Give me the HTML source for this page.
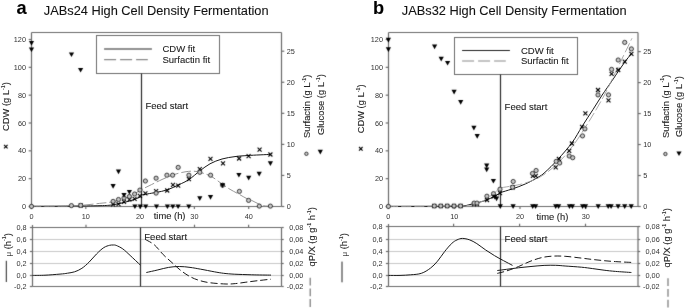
<!DOCTYPE html>
<html><head><meta charset="utf-8"><style>
html,body{margin:0;padding:0;background:#fff;}
svg{display:block;font-family:"Liberation Sans", sans-serif;}
#w{width:685px;height:308px;overflow:hidden;filter:grayscale(1);}
text{stroke:#222;stroke-width:0.1px;}
.tk{stroke-width:0;fill:#333;}
</style></head><body><div id="w">
<svg width="685" height="308" viewBox="0 0 685 308" xmlns="http://www.w3.org/2000/svg">
<defs><filter id="bl" x="0" y="0" width="685" height="308" filterUnits="userSpaceOnUse" color-interpolation-filters="sRGB"><feConvolveMatrix order="3" kernelMatrix="0.015 0.075 0.015 0.075 0.64 0.075 0.015 0.075 0.015" edgeMode="none" preserveAlpha="false"/></filter></defs>
<rect width="685" height="308" fill="#fff"/>
<g filter="url(#bl)">
<line x1="31.5" y1="32.5" x2="281.5" y2="32.5" stroke="#6c6c6c" stroke-width="1.2"/>
<line x1="31.5" y1="32.5" x2="31.5" y2="206.5" stroke="#6c6c6c" stroke-width="1.2"/>
<line x1="281.5" y1="32.5" x2="281.5" y2="206.5" stroke="#6c6c6c" stroke-width="1.2"/>
<line x1="31.5" y1="206.5" x2="281.5" y2="206.5" stroke="#6c6c6c" stroke-width="1.2"/>
<line x1="28.7" y1="206.5" x2="31.5" y2="206.5" stroke="#6c6c6c" stroke-width="1.2"/>
<line x1="28.7" y1="178.666" x2="31.5" y2="178.666" stroke="#6c6c6c" stroke-width="1.2"/>
<line x1="28.7" y1="150.832" x2="31.5" y2="150.832" stroke="#6c6c6c" stroke-width="1.2"/>
<line x1="28.7" y1="122.998" x2="31.5" y2="122.998" stroke="#6c6c6c" stroke-width="1.2"/>
<line x1="28.7" y1="95.164" x2="31.5" y2="95.164" stroke="#6c6c6c" stroke-width="1.2"/>
<line x1="28.7" y1="67.33000000000001" x2="31.5" y2="67.33000000000001" stroke="#6c6c6c" stroke-width="1.2"/>
<line x1="28.7" y1="39.49600000000001" x2="31.5" y2="39.49600000000001" stroke="#6c6c6c" stroke-width="1.2"/>
<line x1="281.5" y1="206.5" x2="284.3" y2="206.5" stroke="#6c6c6c" stroke-width="1.2"/>
<line x1="281.5" y1="175.44" x2="284.3" y2="175.44" stroke="#6c6c6c" stroke-width="1.2"/>
<line x1="281.5" y1="144.38" x2="284.3" y2="144.38" stroke="#6c6c6c" stroke-width="1.2"/>
<line x1="281.5" y1="113.32000000000001" x2="284.3" y2="113.32000000000001" stroke="#6c6c6c" stroke-width="1.2"/>
<line x1="281.5" y1="82.26" x2="284.3" y2="82.26" stroke="#6c6c6c" stroke-width="1.2"/>
<line x1="281.5" y1="51.20000000000002" x2="284.3" y2="51.20000000000002" stroke="#6c6c6c" stroke-width="1.2"/>
<line x1="31.5" y1="206.5" x2="31.5" y2="209.1" stroke="#6c6c6c" stroke-width="1.2"/>
<line x1="85.8" y1="206.5" x2="85.8" y2="209.1" stroke="#6c6c6c" stroke-width="1.2"/>
<line x1="140.1" y1="206.5" x2="140.1" y2="209.1" stroke="#6c6c6c" stroke-width="1.2"/>
<line x1="194.39999999999998" y1="206.5" x2="194.39999999999998" y2="209.1" stroke="#6c6c6c" stroke-width="1.2"/>
<line x1="248.7" y1="206.5" x2="248.7" y2="209.1" stroke="#6c6c6c" stroke-width="1.2"/>
<rect x="96.5" y="35.5" width="123.0" height="38.0" fill="#fff" stroke="#6c6c6c" stroke-width="1"/>
<line x1="104.1" y1="49.0" x2="151.9" y2="49.0" stroke="#222" stroke-width="1.1"/>
<line x1="104.1" y1="59.6" x2="147.8" y2="59.6" stroke="#8a8a8a" stroke-width="1.1" stroke-dasharray="12,4"/>
<line x1="141.5" y1="73.5" x2="141.5" y2="206.5" stroke="#2a2a2a" stroke-width="1.2"/>
<line x1="32.5" y1="239.5" x2="281.5" y2="239.5" stroke="#c8c8c8" stroke-width="1.2"/>
<line x1="32.5" y1="251.5" x2="281.5" y2="251.5" stroke="#c8c8c8" stroke-width="1.2"/>
<line x1="32.5" y1="263.5" x2="281.5" y2="263.5" stroke="#c8c8c8" stroke-width="1.2"/>
<line x1="32.5" y1="275.5" x2="281.5" y2="275.5" stroke="#c8c8c8" stroke-width="1.2"/>
<line x1="32.5" y1="225.0" x2="32.5" y2="286.5" stroke="#6c6c6c" stroke-width="1.2"/>
<line x1="32.5" y1="227.5" x2="281.5" y2="227.5" stroke="#6c6c6c" stroke-width="1.2"/>
<line x1="32.5" y1="286.5" x2="281.5" y2="286.5" stroke="#6c6c6c" stroke-width="1.2"/>
<line x1="281.5" y1="227.5" x2="281.5" y2="286.5" stroke="#6c6c6c" stroke-width="1.2"/>
<line x1="29.9" y1="227.5" x2="32.5" y2="227.5" stroke="#6c6c6c" stroke-width="1.2"/>
<line x1="281.5" y1="227.5" x2="283.7" y2="227.5" stroke="#6c6c6c" stroke-width="1.2"/>
<line x1="29.9" y1="239.5" x2="32.5" y2="239.5" stroke="#6c6c6c" stroke-width="1.2"/>
<line x1="281.5" y1="239.5" x2="283.7" y2="239.5" stroke="#6c6c6c" stroke-width="1.2"/>
<line x1="29.9" y1="251.5" x2="32.5" y2="251.5" stroke="#6c6c6c" stroke-width="1.2"/>
<line x1="281.5" y1="251.5" x2="283.7" y2="251.5" stroke="#6c6c6c" stroke-width="1.2"/>
<line x1="29.9" y1="263.5" x2="32.5" y2="263.5" stroke="#6c6c6c" stroke-width="1.2"/>
<line x1="281.5" y1="263.5" x2="283.7" y2="263.5" stroke="#6c6c6c" stroke-width="1.2"/>
<line x1="29.9" y1="275.5" x2="32.5" y2="275.5" stroke="#6c6c6c" stroke-width="1.2"/>
<line x1="281.5" y1="275.5" x2="283.7" y2="275.5" stroke="#6c6c6c" stroke-width="1.2"/>
<line x1="29.9" y1="286.5" x2="32.5" y2="286.5" stroke="#6c6c6c" stroke-width="1.2"/>
<line x1="281.5" y1="286.5" x2="283.7" y2="286.5" stroke="#6c6c6c" stroke-width="1.2"/>
<line x1="86.0" y1="224.7" x2="86.0" y2="227.5" stroke="#6c6c6c" stroke-width="1.2"/>
<line x1="194.5" y1="224.7" x2="194.5" y2="227.5" stroke="#6c6c6c" stroke-width="1.2"/>
<line x1="248.6" y1="224.7" x2="248.6" y2="227.5" stroke="#6c6c6c" stroke-width="1.2"/>
<line x1="140.5" y1="227.5" x2="140.5" y2="286.5" stroke="#2a2a2a" stroke-width="1.2"/>
<line x1="6.3" y1="260.8" x2="6.3" y2="282.0" stroke="#222" stroke-width="1.0"/>
<line x1="310.2" y1="277.7" x2="310.2" y2="308" stroke="#777" stroke-width="1.2" stroke-dasharray="7.8,2.9"/>
<line x1="388.5" y1="32.5" x2="638.0" y2="32.5" stroke="#6c6c6c" stroke-width="1.2"/>
<line x1="388.5" y1="32.5" x2="388.5" y2="206.5" stroke="#6c6c6c" stroke-width="1.2"/>
<line x1="638.0" y1="32.5" x2="638.0" y2="206.5" stroke="#6c6c6c" stroke-width="1.2"/>
<line x1="388.5" y1="206.5" x2="638.0" y2="206.5" stroke="#6c6c6c" stroke-width="1.2"/>
<line x1="385.7" y1="206.5" x2="388.5" y2="206.5" stroke="#6c6c6c" stroke-width="1.2"/>
<line x1="385.7" y1="178.666" x2="388.5" y2="178.666" stroke="#6c6c6c" stroke-width="1.2"/>
<line x1="385.7" y1="150.832" x2="388.5" y2="150.832" stroke="#6c6c6c" stroke-width="1.2"/>
<line x1="385.7" y1="122.998" x2="388.5" y2="122.998" stroke="#6c6c6c" stroke-width="1.2"/>
<line x1="385.7" y1="95.164" x2="388.5" y2="95.164" stroke="#6c6c6c" stroke-width="1.2"/>
<line x1="385.7" y1="67.33000000000001" x2="388.5" y2="67.33000000000001" stroke="#6c6c6c" stroke-width="1.2"/>
<line x1="385.7" y1="39.49600000000001" x2="388.5" y2="39.49600000000001" stroke="#6c6c6c" stroke-width="1.2"/>
<line x1="638.0" y1="206.5" x2="640.8" y2="206.5" stroke="#6c6c6c" stroke-width="1.2"/>
<line x1="638.0" y1="175.52" x2="640.8" y2="175.52" stroke="#6c6c6c" stroke-width="1.2"/>
<line x1="638.0" y1="144.54000000000002" x2="640.8" y2="144.54000000000002" stroke="#6c6c6c" stroke-width="1.2"/>
<line x1="638.0" y1="113.56" x2="640.8" y2="113.56" stroke="#6c6c6c" stroke-width="1.2"/>
<line x1="638.0" y1="82.58000000000001" x2="640.8" y2="82.58000000000001" stroke="#6c6c6c" stroke-width="1.2"/>
<line x1="638.0" y1="51.599999999999994" x2="640.8" y2="51.599999999999994" stroke="#6c6c6c" stroke-width="1.2"/>
<line x1="388.4" y1="206.5" x2="388.4" y2="209.1" stroke="#6c6c6c" stroke-width="1.2"/>
<line x1="454.2" y1="206.5" x2="454.2" y2="209.1" stroke="#6c6c6c" stroke-width="1.2"/>
<line x1="520.0" y1="206.5" x2="520.0" y2="209.1" stroke="#6c6c6c" stroke-width="1.2"/>
<line x1="585.8" y1="206.5" x2="585.8" y2="209.1" stroke="#6c6c6c" stroke-width="1.2"/>
<rect x="454.5" y="37.5" width="123.0" height="37.0" fill="#fff" stroke="#6c6c6c" stroke-width="1"/>
<line x1="462.1" y1="50.5" x2="509.9" y2="50.5" stroke="#222" stroke-width="1.1"/>
<line x1="462.1" y1="61.0" x2="505.8" y2="61.0" stroke="#8a8a8a" stroke-width="1.1" stroke-dasharray="12,4"/>
<line x1="500.5" y1="74.5" x2="500.5" y2="206.5" stroke="#2a2a2a" stroke-width="1.2"/>
<line x1="388.5" y1="239.5" x2="638.0" y2="239.5" stroke="#c8c8c8" stroke-width="1.2"/>
<line x1="388.5" y1="251.5" x2="638.0" y2="251.5" stroke="#c8c8c8" stroke-width="1.2"/>
<line x1="388.5" y1="263.5" x2="638.0" y2="263.5" stroke="#c8c8c8" stroke-width="1.2"/>
<line x1="388.5" y1="275.5" x2="638.0" y2="275.5" stroke="#c8c8c8" stroke-width="1.2"/>
<line x1="388.5" y1="224.0" x2="388.5" y2="286.5" stroke="#6c6c6c" stroke-width="1.2"/>
<line x1="388.5" y1="226.5" x2="638.0" y2="226.5" stroke="#6c6c6c" stroke-width="1.2"/>
<line x1="388.5" y1="286.5" x2="638.0" y2="286.5" stroke="#6c6c6c" stroke-width="1.2"/>
<line x1="638.0" y1="226.5" x2="638.0" y2="286.5" stroke="#6c6c6c" stroke-width="1.2"/>
<line x1="385.9" y1="226.5" x2="388.5" y2="226.5" stroke="#6c6c6c" stroke-width="1.2"/>
<line x1="638.0" y1="226.5" x2="640.2" y2="226.5" stroke="#6c6c6c" stroke-width="1.2"/>
<line x1="385.9" y1="239.5" x2="388.5" y2="239.5" stroke="#6c6c6c" stroke-width="1.2"/>
<line x1="638.0" y1="239.5" x2="640.2" y2="239.5" stroke="#6c6c6c" stroke-width="1.2"/>
<line x1="385.9" y1="251.5" x2="388.5" y2="251.5" stroke="#6c6c6c" stroke-width="1.2"/>
<line x1="638.0" y1="251.5" x2="640.2" y2="251.5" stroke="#6c6c6c" stroke-width="1.2"/>
<line x1="385.9" y1="263.5" x2="388.5" y2="263.5" stroke="#6c6c6c" stroke-width="1.2"/>
<line x1="638.0" y1="263.5" x2="640.2" y2="263.5" stroke="#6c6c6c" stroke-width="1.2"/>
<line x1="385.9" y1="275.5" x2="388.5" y2="275.5" stroke="#6c6c6c" stroke-width="1.2"/>
<line x1="638.0" y1="275.5" x2="640.2" y2="275.5" stroke="#6c6c6c" stroke-width="1.2"/>
<line x1="385.9" y1="286.5" x2="388.5" y2="286.5" stroke="#6c6c6c" stroke-width="1.2"/>
<line x1="638.0" y1="286.5" x2="640.2" y2="286.5" stroke="#6c6c6c" stroke-width="1.2"/>
<line x1="453.6" y1="223.7" x2="453.6" y2="226.5" stroke="#6c6c6c" stroke-width="1.2"/>
<line x1="519.6" y1="223.7" x2="519.6" y2="226.5" stroke="#6c6c6c" stroke-width="1.2"/>
<line x1="585.5" y1="223.7" x2="585.5" y2="226.5" stroke="#6c6c6c" stroke-width="1.2"/>
<line x1="500.5" y1="226.5" x2="500.5" y2="286.5" stroke="#2a2a2a" stroke-width="1.2"/>
<line x1="342.0" y1="261.6" x2="342.0" y2="282.3" stroke="#222" stroke-width="1.0"/>
<line x1="668.0" y1="278.3" x2="668.0" y2="308" stroke="#777" stroke-width="1.2" stroke-dasharray="7.8,2.9"/>
</g>
<g>
<path d="M31.5,206.3C37.9,206.3 58.6,206.2 70.0,206.1C81.4,206.0 92.8,205.9 100.0,205.7C107.2,205.5 108.8,205.4 113.0,204.8C117.2,204.2 121.3,203.1 125.0,202.2C128.7,201.3 132.3,200.1 135.0,199.2C137.7,198.2 140.2,196.9 141.2,196.5" fill="none" stroke="#1a1a1a" stroke-width="1.0"/>
<path d="M141.2,195.0C143.6,194.6 151.2,193.3 155.5,192.5C159.8,191.7 163.3,191.2 167.2,189.9C171.1,188.6 175.3,186.4 178.9,184.7C182.5,183.0 185.4,181.9 188.9,179.6C192.4,177.3 196.5,173.4 200.0,170.8C203.5,168.2 206.3,165.8 210.0,163.8C213.7,161.8 217.8,160.2 222.0,159.0C226.2,157.8 230.7,157.2 235.0,156.6C239.3,156.0 242.1,155.9 248.0,155.5C253.9,155.1 266.7,154.6 270.4,154.4" fill="none" stroke="#1a1a1a" stroke-width="1.0"/>
<path d="M31.5,206.4C37.9,206.4 61.1,206.4 70.0,206.2C78.9,206.0 80.1,205.5 85.0,205.0C89.9,204.5 95.3,203.9 99.5,203.4C103.7,202.9 106.8,202.8 110.2,202.2C113.6,201.6 116.7,201.0 120.0,200.0C123.3,199.0 126.5,197.7 130.0,196.0C133.5,194.3 138.5,191.4 141.0,190.0C143.5,188.6 141.5,189.6 145.0,187.8C148.5,186.1 157.0,181.8 162.0,179.5C167.0,177.2 171.0,175.6 175.0,174.3C179.0,173.0 182.7,172.2 186.0,171.7C189.3,171.2 191.8,171.0 195.0,171.3C198.2,171.7 202.0,172.8 205.0,173.8C208.0,174.8 210.2,175.8 213.0,177.5C215.8,179.2 219.2,182.0 222.0,184.0C224.8,186.0 227.0,187.5 230.0,189.3C233.0,191.1 237.2,193.2 240.0,194.8C242.8,196.4 245.0,197.7 247.0,198.7C249.0,199.7 250.2,199.8 252.0,200.6C253.8,201.4 256.0,202.7 258.0,203.6C260.0,204.5 262.0,205.4 264.0,205.8C266.0,206.2 269.0,206.2 270.0,206.3" fill="none" stroke="#8c8c8c" stroke-width="0.9" stroke-dasharray="10,3"/>
<path d="M32.5,275.4C34.6,275.4 40.4,275.4 45.0,275.2C49.6,275.0 56.2,274.4 60.0,274.1C63.8,273.8 65.1,273.6 67.5,273.2C69.9,272.8 72.2,272.6 74.6,271.8C77.0,271.0 79.5,269.9 81.9,268.3C84.3,266.7 86.8,264.4 89.2,262.0C91.6,259.6 94.1,256.4 96.5,254.0C98.9,251.6 101.6,249.0 103.8,247.6C106.0,246.2 108.1,245.7 109.6,245.3C111.1,244.9 111.9,245.0 113.0,245.0C114.1,245.0 114.6,244.8 116.2,245.4C117.8,246.1 120.5,247.2 122.8,248.9C125.1,250.6 127.2,252.7 130.1,255.4C133.0,258.1 138.6,263.4 140.3,265.0" fill="none" stroke="#1a1a1a" stroke-width="1.0"/>
<path d="M146.3,272.5C148.2,272.1 154.2,270.8 157.9,269.9C161.6,269.0 165.0,268.0 168.6,267.4C172.2,266.8 175.7,266.5 179.3,266.5C182.9,266.5 186.4,266.9 190.0,267.4C193.6,267.8 196.6,268.5 200.7,269.2C204.8,269.9 210.5,271.1 214.3,271.8C218.1,272.5 220.4,272.9 223.7,273.3C227.0,273.7 229.5,273.9 234.2,274.2C238.9,274.4 245.6,274.6 251.7,274.8C257.8,275.0 267.8,275.1 271.0,275.1" fill="none" stroke="#1a1a1a" stroke-width="1.0"/>
<path d="M145.4,239.5C146.9,240.4 151.3,242.3 154.3,244.8C157.3,247.3 160.2,251.6 163.2,254.6C166.2,257.6 169.1,260.0 172.1,262.7C175.1,265.4 178.1,268.4 181.1,270.7C184.1,273.0 187.0,275.0 190.0,276.6C193.0,278.2 195.6,279.3 198.9,280.3C202.2,281.3 205.1,282.1 209.6,282.7C214.1,283.3 221.7,283.9 226.0,284.0C230.3,284.1 232.1,283.9 235.4,283.6C238.7,283.3 242.2,282.7 245.9,282.2C249.6,281.7 253.4,281.2 257.6,280.7C261.8,280.2 268.8,279.4 271.0,279.2" fill="none" stroke="#1a1a1a" stroke-width="1.0" stroke-dasharray="7,3"/>
<path d="M388.4,206.4C399.5,206.3 441.4,206.4 455.0,206.1C468.6,205.8 464.7,205.6 470.0,204.5C475.3,203.4 481.9,201.8 487.0,199.8C492.1,197.9 498.2,194.0 500.4,192.8" fill="none" stroke="#1a1a1a" stroke-width="1.0"/>
<path d="M500.7,192.5C502.6,191.9 507.8,190.4 512.0,189.0C516.2,187.6 521.4,185.8 525.7,183.8C530.0,181.9 534.8,179.2 538.0,177.3C541.2,175.4 541.7,175.3 545.0,172.3C548.3,169.3 553.5,164.3 558.0,159.3C562.5,154.3 568.3,147.8 572.3,142.3C576.3,136.8 578.6,131.9 582.1,126.4C585.6,120.9 589.6,114.7 593.0,109.5C596.4,104.3 599.0,99.8 602.2,95.0C605.4,90.2 609.3,84.7 612.0,80.8C614.7,76.9 616.1,74.6 618.2,71.5C620.3,68.4 622.5,65.2 624.7,62.2C626.9,59.2 630.3,55.0 631.4,53.6" fill="none" stroke="#1a1a1a" stroke-width="1.0"/>
<path d="M388.4,206.4C400.3,206.3 445.6,206.3 460.0,206.0C474.4,205.7 470.5,205.6 475.0,204.3C479.5,203.1 482.9,201.1 487.0,198.5C491.1,195.9 497.4,190.2 499.5,188.5" fill="none" stroke="#b0b0b0" stroke-width="0.9" stroke-dasharray="10,3"/>
<path d="M499.5,188.0C503.2,187.3 515.0,185.8 521.7,184.0C528.5,182.2 534.0,180.4 540.0,177.0C546.0,173.6 551.9,168.8 557.5,163.5C563.1,158.2 568.2,152.1 573.5,145.0C578.8,137.9 584.1,129.3 589.3,121.0C594.4,112.7 600.1,103.0 604.4,95.0C608.7,87.0 611.6,80.2 615.3,72.7C618.9,65.2 623.5,55.7 626.3,50.0C629.1,44.3 631.0,40.2 632.0,38.3" fill="none" stroke="#a0a0a0" stroke-width="0.9" stroke-dasharray="10,3"/>
<path d="M388.5,275.4C390.4,275.4 396.3,275.5 400.0,275.4C403.7,275.3 407.1,275.1 410.7,274.8C414.3,274.5 418.1,274.4 421.4,273.3C424.7,272.2 427.7,270.2 430.4,268.2C433.1,266.2 435.1,264.0 437.5,261.2C439.9,258.4 442.2,254.6 444.6,251.6C447.0,248.6 449.7,245.3 451.8,243.4C453.9,241.5 455.2,240.7 457.0,239.9C458.8,239.1 460.3,238.4 462.4,238.4C464.5,238.4 467.3,239.0 469.7,239.9C472.1,240.8 474.1,241.9 476.8,243.6C479.5,245.3 482.7,248.0 485.7,250.0C488.7,252.0 491.6,253.9 494.6,255.7C497.6,257.5 500.6,259.1 503.6,260.7C506.6,262.3 511.0,264.6 512.5,265.4" fill="none" stroke="#1a1a1a" stroke-width="1.0"/>
<path d="M497.3,270.5C498.9,270.3 503.2,269.8 506.7,269.3C510.2,268.9 514.5,268.2 518.4,267.8C522.3,267.4 525.7,267.0 530.0,266.6C534.3,266.2 539.8,265.6 544.1,265.4C548.4,265.2 552.2,265.2 555.7,265.3C559.2,265.4 560.8,265.7 565.1,266.0C569.4,266.3 576.8,266.8 581.4,267.2C586.0,267.6 588.9,268.1 592.7,268.6C596.5,269.1 600.3,269.7 604.1,270.2C607.9,270.7 611.0,271.0 615.5,271.4C620.0,271.8 628.8,272.3 631.4,272.5" fill="none" stroke="#1a1a1a" stroke-width="1.0"/>
<path d="M497.3,273.4C498.9,273.0 503.2,272.0 506.7,270.9C510.2,269.8 514.5,268.2 518.4,266.6C522.3,265.0 526.1,262.9 530.0,261.4C533.9,259.9 537.8,258.5 541.7,257.6C545.6,256.7 549.5,256.3 553.4,256.1C557.3,255.9 560.4,256.0 565.1,256.3C569.8,256.6 576.8,257.6 581.4,258.1C586.0,258.6 588.9,259.1 592.7,259.5C596.5,259.9 600.3,260.3 604.1,260.7C607.9,261.1 611.0,261.3 615.5,261.6C620.0,261.9 628.8,262.3 631.4,262.4" fill="none" stroke="#1a1a1a" stroke-width="1.0" stroke-dasharray="7,3"/>
</g>
<g filter="url(#bl)">
<path d="M4.0,144.8L7.6,148.4M7.6,144.8L4.0,148.4" stroke="#000" stroke-width="1.1"/>
<circle cx="306.4" cy="153.8" r="1.7" fill="#c8c8c8" stroke="#1e1e1e" stroke-width="0.85"/>
<path d="M317.7,149.7H322.9L320.3,154.4Z" fill="#000"/>
<path d="M78.7,203.5L82.7,207.5M82.7,203.5L78.7,207.5" stroke="#000" stroke-width="1.1"/>
<path d="M111.1,202.4L115.1,206.4M115.1,202.4L111.1,206.4" stroke="#000" stroke-width="1.1"/>
<path d="M116.5,202.2L120.5,206.2M120.5,202.2L116.5,206.2" stroke="#000" stroke-width="1.1"/>
<path d="M122.0,199.9L126.0,203.9M126.0,199.9L122.0,203.9" stroke="#000" stroke-width="1.1"/>
<path d="M127.4,197.6L131.4,201.6M131.4,197.6L127.4,201.6" stroke="#000" stroke-width="1.1"/>
<path d="M132.6,196.9L136.6,200.9M136.6,196.9L132.6,200.9" stroke="#000" stroke-width="1.1"/>
<path d="M137.9,193.9L141.9,197.9M141.9,193.9L137.9,197.9" stroke="#000" stroke-width="1.1"/>
<path d="M143.4,191.4L147.4,195.4M147.4,191.4L143.4,195.4" stroke="#000" stroke-width="1.1"/>
<path d="M154.1,189.2L158.1,193.2M158.1,189.2L154.1,193.2" stroke="#000" stroke-width="1.1"/>
<path d="M165.2,188.5L169.2,192.5M169.2,188.5L165.2,192.5" stroke="#000" stroke-width="1.1"/>
<path d="M171.0,182.9L175.0,186.9M175.0,182.9L171.0,186.9" stroke="#000" stroke-width="1.1"/>
<path d="M176.2,183.7L180.2,187.7M180.2,183.7L176.2,187.7" stroke="#000" stroke-width="1.1"/>
<path d="M186.9,177.2L190.9,181.2M190.9,177.2L186.9,181.2" stroke="#000" stroke-width="1.1"/>
<path d="M197.8,167.2L201.8,171.2M201.8,167.2L197.8,171.2" stroke="#000" stroke-width="1.1"/>
<path d="M208.5,156.9L212.5,160.9M212.5,156.9L208.5,160.9" stroke="#000" stroke-width="1.1"/>
<path d="M221.0,161.3L225.0,165.3M225.0,161.3L221.0,165.3" stroke="#000" stroke-width="1.1"/>
<path d="M237.1,156.5L241.1,160.5M241.1,156.5L237.1,160.5" stroke="#000" stroke-width="1.1"/>
<path d="M246.6,154.1L250.6,158.1M250.6,154.1L246.6,158.1" stroke="#000" stroke-width="1.1"/>
<path d="M257.6,147.7L261.6,151.7M261.6,147.7L257.6,151.7" stroke="#000" stroke-width="1.1"/>
<path d="M268.4,152.5L272.4,156.5M272.4,152.5L268.4,156.5" stroke="#000" stroke-width="1.1"/>
<circle cx="31.5" cy="206.4" r="2.1" fill="#c8c8c8" stroke="#1e1e1e" stroke-width="0.85"/>
<circle cx="71.4" cy="205.6" r="2.1" fill="#c8c8c8" stroke="#1e1e1e" stroke-width="0.85"/>
<circle cx="80.7" cy="205.4" r="2.1" fill="#c8c8c8" stroke="#1e1e1e" stroke-width="0.85"/>
<circle cx="113.1" cy="201.4" r="2.1" fill="#c8c8c8" stroke="#1e1e1e" stroke-width="0.85"/>
<circle cx="118.5" cy="199.5" r="2.1" fill="#c8c8c8" stroke="#1e1e1e" stroke-width="0.85"/>
<circle cx="124.0" cy="198.0" r="2.1" fill="#c8c8c8" stroke="#1e1e1e" stroke-width="0.85"/>
<circle cx="129.4" cy="196.5" r="2.1" fill="#c8c8c8" stroke="#1e1e1e" stroke-width="0.85"/>
<circle cx="134.6" cy="194.0" r="2.1" fill="#c8c8c8" stroke="#1e1e1e" stroke-width="0.85"/>
<circle cx="139.9" cy="190.1" r="2.1" fill="#c8c8c8" stroke="#1e1e1e" stroke-width="0.85"/>
<circle cx="145.4" cy="181.0" r="2.1" fill="#c8c8c8" stroke="#1e1e1e" stroke-width="0.85"/>
<circle cx="156.1" cy="178.2" r="2.1" fill="#c8c8c8" stroke="#1e1e1e" stroke-width="0.85"/>
<circle cx="156.1" cy="193.1" r="2.1" fill="#c8c8c8" stroke="#1e1e1e" stroke-width="0.85"/>
<circle cx="166.9" cy="175.2" r="2.1" fill="#c8c8c8" stroke="#1e1e1e" stroke-width="0.85"/>
<circle cx="172.6" cy="175.2" r="2.1" fill="#c8c8c8" stroke="#1e1e1e" stroke-width="0.85"/>
<circle cx="178.2" cy="167.4" r="2.1" fill="#c8c8c8" stroke="#1e1e1e" stroke-width="0.85"/>
<circle cx="188.9" cy="175.2" r="2.1" fill="#c8c8c8" stroke="#1e1e1e" stroke-width="0.85"/>
<circle cx="199.8" cy="172.3" r="2.1" fill="#c8c8c8" stroke="#1e1e1e" stroke-width="0.85"/>
<circle cx="210.6" cy="175.2" r="2.1" fill="#c8c8c8" stroke="#1e1e1e" stroke-width="0.85"/>
<circle cx="222.6" cy="185.2" r="2.1" fill="#c8c8c8" stroke="#1e1e1e" stroke-width="0.85"/>
<circle cx="239.4" cy="191.4" r="2.1" fill="#c8c8c8" stroke="#1e1e1e" stroke-width="0.85"/>
<circle cx="248.6" cy="200.4" r="2.1" fill="#c8c8c8" stroke="#1e1e1e" stroke-width="0.85"/>
<circle cx="259.3" cy="206.1" r="2.1" fill="#c8c8c8" stroke="#1e1e1e" stroke-width="0.85"/>
<circle cx="270.4" cy="206.1" r="2.1" fill="#c8c8c8" stroke="#1e1e1e" stroke-width="0.85"/>
<path d="M28.9,40.9H34.1L31.5,45.6Z" fill="#000"/>
<path d="M28.9,47.4H34.1L31.5,52.1Z" fill="#000"/>
<path d="M68.9,52.4H74.1L71.5,57.1Z" fill="#000"/>
<path d="M78.0,67.9H83.2L80.6,72.6Z" fill="#000"/>
<path d="M110.5,184.1H115.7L113.1,188.8Z" fill="#000"/>
<path d="M115.9,169.5H121.1L118.5,174.2Z" fill="#000"/>
<path d="M121.4,193.1H126.6L124.0,197.8Z" fill="#000"/>
<path d="M126.8,189.9H132.0L129.4,194.6Z" fill="#000"/>
<path d="M132.3,204.4H137.5L134.9,209.1Z" fill="#000"/>
<path d="M137.7,204.4H142.9L140.3,209.1Z" fill="#000"/>
<path d="M143.1,204.4H148.3L145.7,209.1Z" fill="#000"/>
<path d="M153.9,204.4H159.1L156.5,209.1Z" fill="#000"/>
<path d="M164.8,204.4H170.0L167.4,209.1Z" fill="#000"/>
<path d="M170.2,204.4H175.4L172.8,209.1Z" fill="#000"/>
<path d="M175.5,204.4H180.7L178.1,209.1Z" fill="#000"/>
<path d="M186.2,204.4H191.4L188.8,209.1Z" fill="#000"/>
<path d="M197.2,196.3H202.4L199.8,201.0Z" fill="#000"/>
<path d="M207.9,195.0H213.1L210.5,199.7Z" fill="#000"/>
<path d="M219.9,183.3H225.1L222.5,188.0Z" fill="#000"/>
<path d="M236.3,172.9H241.5L238.9,177.6Z" fill="#000"/>
<path d="M246.1,175.8H251.3L248.7,180.5Z" fill="#000"/>
<path d="M256.6,171.8H261.8L259.2,176.5Z" fill="#000"/>
<path d="M267.8,161.3H273.0L270.4,166.0Z" fill="#000"/>
<path d="M359.0,147.0L362.6,150.6M362.6,147.0L359.0,150.6" stroke="#000" stroke-width="1.1"/>
<circle cx="665.4" cy="154.0" r="1.7" fill="#c8c8c8" stroke="#1e1e1e" stroke-width="0.85"/>
<path d="M676.4,151.4H681.6L679.0,156.1Z" fill="#000"/>
<path d="M432.3,204.0L436.3,208.0M436.3,204.0L432.3,208.0" stroke="#000" stroke-width="1.1"/>
<path d="M438.8,204.0L442.8,208.0M442.8,204.0L438.8,208.0" stroke="#000" stroke-width="1.1"/>
<path d="M445.2,204.0L449.2,208.0M449.2,204.0L445.2,208.0" stroke="#000" stroke-width="1.1"/>
<path d="M452.0,204.0L456.0,208.0M456.0,204.0L452.0,208.0" stroke="#000" stroke-width="1.1"/>
<path d="M458.6,204.0L462.6,208.0M462.6,204.0L458.6,208.0" stroke="#000" stroke-width="1.1"/>
<path d="M472.1,202.2L476.1,206.2M476.1,202.2L472.1,206.2" stroke="#000" stroke-width="1.1"/>
<path d="M475.0,202.2L479.0,206.2M479.0,202.2L475.0,206.2" stroke="#000" stroke-width="1.1"/>
<path d="M485.0,198.0L489.0,202.0M489.0,198.0L485.0,202.0" stroke="#000" stroke-width="1.1"/>
<path d="M491.5,194.5L495.5,198.5M495.5,194.5L491.5,198.5" stroke="#000" stroke-width="1.1"/>
<path d="M498.0,191.1L502.0,195.1M502.0,191.1L498.0,195.1" stroke="#000" stroke-width="1.1"/>
<path d="M510.6,185.5L514.6,189.5M514.6,185.5L510.6,189.5" stroke="#000" stroke-width="1.1"/>
<path d="M530.9,173.8L534.9,177.8M534.9,173.8L530.9,177.8" stroke="#000" stroke-width="1.1"/>
<path d="M533.8,173.8L537.8,177.8M537.8,173.8L533.8,177.8" stroke="#000" stroke-width="1.1"/>
<path d="M553.7,165.4L557.7,169.4M557.7,165.4L553.7,169.4" stroke="#000" stroke-width="1.1"/>
<path d="M556.9,157.0L560.9,161.0M560.9,157.0L556.9,161.0" stroke="#000" stroke-width="1.1"/>
<path d="M567.2,148.8L571.2,152.8M571.2,148.8L567.2,152.8" stroke="#000" stroke-width="1.1"/>
<path d="M569.9,141.5L573.9,145.5M573.9,141.5L569.9,145.5" stroke="#000" stroke-width="1.1"/>
<path d="M580.1,124.8L584.1,128.8M584.1,124.8L580.1,128.8" stroke="#000" stroke-width="1.1"/>
<path d="M583.4,111.3L587.4,115.3M587.4,111.3L583.4,115.3" stroke="#000" stroke-width="1.1"/>
<path d="M596.0,88.0L600.0,92.0M600.0,88.0L596.0,92.0" stroke="#000" stroke-width="1.1"/>
<path d="M606.5,98.3L610.5,102.3M610.5,98.3L606.5,102.3" stroke="#000" stroke-width="1.1"/>
<path d="M609.6,71.8L613.6,75.8M613.6,71.8L609.6,75.8" stroke="#000" stroke-width="1.1"/>
<path d="M616.2,68.0L620.2,72.0M620.2,68.0L616.2,72.0" stroke="#000" stroke-width="1.1"/>
<path d="M622.7,59.6L626.7,63.6M626.7,59.6L622.7,63.6" stroke="#000" stroke-width="1.1"/>
<path d="M629.4,51.8L633.4,55.8M633.4,51.8L629.4,55.8" stroke="#000" stroke-width="1.1"/>
<circle cx="388.4" cy="206.4" r="2.1" fill="#c8c8c8" stroke="#1e1e1e" stroke-width="0.85"/>
<circle cx="434.3" cy="206.0" r="2.1" fill="#c8c8c8" stroke="#1e1e1e" stroke-width="0.85"/>
<circle cx="440.8" cy="206.0" r="2.1" fill="#c8c8c8" stroke="#1e1e1e" stroke-width="0.85"/>
<circle cx="447.2" cy="206.0" r="2.1" fill="#c8c8c8" stroke="#1e1e1e" stroke-width="0.85"/>
<circle cx="454.0" cy="206.0" r="2.1" fill="#c8c8c8" stroke="#1e1e1e" stroke-width="0.85"/>
<circle cx="460.6" cy="206.0" r="2.1" fill="#c8c8c8" stroke="#1e1e1e" stroke-width="0.85"/>
<circle cx="474.1" cy="203.1" r="2.1" fill="#c8c8c8" stroke="#1e1e1e" stroke-width="0.85"/>
<circle cx="477.0" cy="203.1" r="2.1" fill="#c8c8c8" stroke="#1e1e1e" stroke-width="0.85"/>
<circle cx="486.9" cy="196.2" r="2.1" fill="#c8c8c8" stroke="#1e1e1e" stroke-width="0.85"/>
<circle cx="493.5" cy="193.7" r="2.1" fill="#c8c8c8" stroke="#1e1e1e" stroke-width="0.85"/>
<circle cx="500.0" cy="189.2" r="2.1" fill="#c8c8c8" stroke="#1e1e1e" stroke-width="0.85"/>
<circle cx="513.2" cy="181.5" r="2.1" fill="#c8c8c8" stroke="#1e1e1e" stroke-width="0.85"/>
<circle cx="512.6" cy="187.2" r="2.1" fill="#c8c8c8" stroke="#1e1e1e" stroke-width="0.85"/>
<circle cx="532.5" cy="173.5" r="2.1" fill="#c8c8c8" stroke="#1e1e1e" stroke-width="0.85"/>
<circle cx="536.1" cy="170.5" r="2.1" fill="#c8c8c8" stroke="#1e1e1e" stroke-width="0.85"/>
<circle cx="556.2" cy="161.4" r="2.1" fill="#c8c8c8" stroke="#1e1e1e" stroke-width="0.85"/>
<circle cx="559.7" cy="163.0" r="2.1" fill="#c8c8c8" stroke="#1e1e1e" stroke-width="0.85"/>
<circle cx="569.2" cy="156.0" r="2.1" fill="#c8c8c8" stroke="#1e1e1e" stroke-width="0.85"/>
<circle cx="572.7" cy="157.7" r="2.1" fill="#c8c8c8" stroke="#1e1e1e" stroke-width="0.85"/>
<circle cx="582.5" cy="135.9" r="2.1" fill="#c8c8c8" stroke="#1e1e1e" stroke-width="0.85"/>
<circle cx="584.9" cy="128.9" r="2.1" fill="#c8c8c8" stroke="#1e1e1e" stroke-width="0.85"/>
<circle cx="598.0" cy="94.9" r="2.1" fill="#c8c8c8" stroke="#1e1e1e" stroke-width="0.85"/>
<circle cx="608.5" cy="94.9" r="2.1" fill="#c8c8c8" stroke="#1e1e1e" stroke-width="0.85"/>
<circle cx="611.6" cy="69.4" r="2.1" fill="#c8c8c8" stroke="#1e1e1e" stroke-width="0.85"/>
<circle cx="618.2" cy="60.0" r="2.1" fill="#c8c8c8" stroke="#1e1e1e" stroke-width="0.85"/>
<circle cx="624.7" cy="42.4" r="2.1" fill="#c8c8c8" stroke="#1e1e1e" stroke-width="0.85"/>
<circle cx="631.4" cy="48.9" r="2.1" fill="#c8c8c8" stroke="#1e1e1e" stroke-width="0.85"/>
<path d="M385.8,37.7H391.0L388.4,42.4Z" fill="#000"/>
<path d="M385.8,47.3H391.0L388.4,52.0Z" fill="#000"/>
<path d="M432.0,44.6H437.2L434.6,49.3Z" fill="#000"/>
<path d="M438.6,56.8H443.8L441.2,61.5Z" fill="#000"/>
<path d="M445.0,60.9H450.2L447.6,65.6Z" fill="#000"/>
<path d="M451.5,89.7H456.7L454.1,94.4Z" fill="#000"/>
<path d="M458.1,100.0H463.3L460.7,104.7Z" fill="#000"/>
<path d="M471.3,125.7H476.5L473.9,130.4Z" fill="#000"/>
<path d="M474.6,134.1H479.8L477.2,138.8Z" fill="#000"/>
<path d="M484.1,163.6H489.3L486.7,168.3Z" fill="#000"/>
<path d="M484.1,167.6H489.3L486.7,172.3Z" fill="#000"/>
<path d="M490.8,178.9H496.0L493.4,183.6Z" fill="#000"/>
<path d="M492.2,194.7H497.4L494.8,199.4Z" fill="#000"/>
<path d="M494.0,196.5H499.2L496.6,201.2Z" fill="#000"/>
<path d="M497.7,204.3H502.9L500.3,209.0Z" fill="#000"/>
<path d="M510.5,204.3H515.7L513.1,209.0Z" fill="#000"/>
<path d="M530.1,204.3H535.3L532.7,209.0Z" fill="#000"/>
<path d="M533.0,204.3H538.2L535.6,209.0Z" fill="#000"/>
<path d="M553.1,204.3H558.3L555.7,209.0Z" fill="#000"/>
<path d="M556.0,204.3H561.2L558.6,209.0Z" fill="#000"/>
<path d="M566.9,204.3H572.1L569.5,209.0Z" fill="#000"/>
<path d="M569.8,204.3H575.0L572.4,209.0Z" fill="#000"/>
<path d="M580.0,204.3H585.2L582.6,209.0Z" fill="#000"/>
<path d="M582.9,204.3H588.1L585.5,209.0Z" fill="#000"/>
<path d="M595.6,204.3H600.8L598.2,209.0Z" fill="#000"/>
<path d="M605.6,204.3H610.8L608.2,209.0Z" fill="#000"/>
<path d="M608.5,204.3H613.7L611.1,209.0Z" fill="#000"/>
<path d="M615.5,204.3H620.7L618.1,209.0Z" fill="#000"/>
<path d="M622.1,204.3H627.3L624.7,209.0Z" fill="#000"/>
<path d="M628.6,204.3H633.8L631.2,209.0Z" fill="#000"/>
</g>
<g>
<text x="16.4" y="14.0" font-size="18.2" text-anchor="start" fill="#000" font-weight="bold">a</text>
<text x="43.8" y="15.0" font-size="12.8" text-anchor="start" fill="#111" font-weight="normal">JABs24 High Cell Density Fermentation</text>
<text x="26.0" y="209.1" font-size="7.3" text-anchor="end" fill="#222" font-weight="normal" class="tk">0</text>
<text x="26.0" y="181.266" font-size="7.3" text-anchor="end" fill="#222" font-weight="normal" class="tk">20</text>
<text x="26.0" y="153.432" font-size="7.3" text-anchor="end" fill="#222" font-weight="normal" class="tk">40</text>
<text x="26.0" y="125.598" font-size="7.3" text-anchor="end" fill="#222" font-weight="normal" class="tk">60</text>
<text x="26.0" y="97.764" font-size="7.3" text-anchor="end" fill="#222" font-weight="normal" class="tk">80</text>
<text x="26.0" y="69.93" font-size="7.3" text-anchor="end" fill="#222" font-weight="normal" class="tk">100</text>
<text x="26.0" y="42.09600000000001" font-size="7.3" text-anchor="end" fill="#222" font-weight="normal" class="tk">120</text>
<text x="286.8" y="209.1" font-size="7.3" text-anchor="start" fill="#222" font-weight="normal" class="tk">0</text>
<text x="286.8" y="178.04" font-size="7.3" text-anchor="start" fill="#222" font-weight="normal" class="tk">5</text>
<text x="286.8" y="146.98" font-size="7.3" text-anchor="start" fill="#222" font-weight="normal" class="tk">10</text>
<text x="286.8" y="115.92" font-size="7.3" text-anchor="start" fill="#222" font-weight="normal" class="tk">15</text>
<text x="286.8" y="84.86" font-size="7.3" text-anchor="start" fill="#222" font-weight="normal" class="tk">20</text>
<text x="286.8" y="53.80000000000002" font-size="7.3" text-anchor="start" fill="#222" font-weight="normal" class="tk">25</text>
<text x="31.5" y="218.7" font-size="7.3" text-anchor="middle" fill="#222" font-weight="normal" class="tk">0</text>
<text x="85.8" y="218.7" font-size="7.3" text-anchor="middle" fill="#222" font-weight="normal" class="tk">10</text>
<text x="140.1" y="218.7" font-size="7.3" text-anchor="middle" fill="#222" font-weight="normal" class="tk">20</text>
<text x="194.39999999999998" y="218.7" font-size="7.3" text-anchor="middle" fill="#222" font-weight="normal" class="tk">30</text>
<text x="248.7" y="218.7" font-size="7.3" text-anchor="middle" fill="#222" font-weight="normal" class="tk">40</text>
<text x="153.7" y="219.0" font-size="9.4" text-anchor="start" fill="#222" font-weight="normal">time (h)</text>
<text x="162.5" y="52.2" font-size="9.5" text-anchor="start" fill="#222" font-weight="normal">CDW fit</text>
<text x="162.5" y="62.7" font-size="9.5" text-anchor="start" fill="#222" font-weight="normal">Surfactin fit</text>
<text x="145.4" y="109.2" font-size="9.5" text-anchor="start" fill="#222" font-weight="normal">Feed start</text>
<text transform="translate(9.3,131.0) rotate(-90)" font-size="9.35" fill="#222">CDW (g L<tspan font-size="5.4" dy="-4.2">-1</tspan><tspan dy="4.2">)</tspan></text>
<text transform="translate(310.2,138.0) rotate(-90)" font-size="9.35" fill="#222">Surfactin (g L<tspan font-size="5.4" dy="-4.2">-1</tspan><tspan dy="4.2">)</tspan></text>
<text transform="translate(324.0,135.0) rotate(-90)" font-size="9.35" fill="#222">Glucose (g L<tspan font-size="5.4" dy="-4.2">-1</tspan><tspan dy="4.2">)</tspan></text>
<text x="26.7" y="230.1" font-size="7.3" text-anchor="end" fill="#222" font-weight="normal" class="tk">0,8</text>
<text x="303.4" y="230.1" font-size="7.3" text-anchor="end" fill="#222" font-weight="normal" class="tk">0,08</text>
<text x="26.7" y="242.1" font-size="7.3" text-anchor="end" fill="#222" font-weight="normal" class="tk">0,6</text>
<text x="303.4" y="242.1" font-size="7.3" text-anchor="end" fill="#222" font-weight="normal" class="tk">0,06</text>
<text x="26.7" y="254.1" font-size="7.3" text-anchor="end" fill="#222" font-weight="normal" class="tk">0,4</text>
<text x="303.4" y="254.1" font-size="7.3" text-anchor="end" fill="#222" font-weight="normal" class="tk">0,04</text>
<text x="26.7" y="266.1" font-size="7.3" text-anchor="end" fill="#222" font-weight="normal" class="tk">0,2</text>
<text x="303.4" y="266.1" font-size="7.3" text-anchor="end" fill="#222" font-weight="normal" class="tk">0,02</text>
<text x="26.7" y="278.1" font-size="7.3" text-anchor="end" fill="#222" font-weight="normal" class="tk">0,0</text>
<text x="303.4" y="278.1" font-size="7.3" text-anchor="end" fill="#222" font-weight="normal" class="tk">0,00</text>
<text x="26.7" y="289.1" font-size="7.3" text-anchor="end" fill="#222" font-weight="normal" class="tk">-0,2</text>
<text x="303.4" y="289.1" font-size="7.3" text-anchor="end" fill="#222" font-weight="normal" class="tk">-0,02</text>
<text x="144.3" y="239.7" font-size="9.5" text-anchor="start" fill="#222" font-weight="normal">Feed start</text>
<text transform="translate(10.6,256.5) rotate(-90)" font-size="9.35" fill="#222"><tspan font-size="8" fill="#444" stroke-width="0">μ</tspan><tspan> (h</tspan><tspan font-size="5.4" dy="-4.2">-1</tspan><tspan dy="4.2">)</tspan></text>
<text transform="translate(315.3,266.5) rotate(-90)" font-size="9.35" fill="#222">qP/X (g g<tspan font-size="5.4" dy="-4.2">-1</tspan><tspan dy="4.2"> h<tspan font-size="5.4" dy="-4.2">-1</tspan><tspan dy="4.2">)</tspan></tspan></text>
<text x="373.0" y="14.0" font-size="18.2" text-anchor="start" fill="#000" font-weight="bold">b</text>
<text x="401.8" y="15.4" font-size="12.8" text-anchor="start" fill="#111" font-weight="normal">JABs32 High Cell Density Fermentation</text>
<text x="383.0" y="209.1" font-size="7.3" text-anchor="end" fill="#222" font-weight="normal" class="tk">0</text>
<text x="383.0" y="181.266" font-size="7.3" text-anchor="end" fill="#222" font-weight="normal" class="tk">20</text>
<text x="383.0" y="153.432" font-size="7.3" text-anchor="end" fill="#222" font-weight="normal" class="tk">40</text>
<text x="383.0" y="125.598" font-size="7.3" text-anchor="end" fill="#222" font-weight="normal" class="tk">60</text>
<text x="383.0" y="97.764" font-size="7.3" text-anchor="end" fill="#222" font-weight="normal" class="tk">80</text>
<text x="383.0" y="69.93" font-size="7.3" text-anchor="end" fill="#222" font-weight="normal" class="tk">100</text>
<text x="383.0" y="42.09600000000001" font-size="7.3" text-anchor="end" fill="#222" font-weight="normal" class="tk">120</text>
<text x="643.3" y="209.1" font-size="7.3" text-anchor="start" fill="#222" font-weight="normal" class="tk">0</text>
<text x="643.3" y="178.12" font-size="7.3" text-anchor="start" fill="#222" font-weight="normal" class="tk">5</text>
<text x="643.3" y="147.14000000000001" font-size="7.3" text-anchor="start" fill="#222" font-weight="normal" class="tk">10</text>
<text x="643.3" y="116.16" font-size="7.3" text-anchor="start" fill="#222" font-weight="normal" class="tk">15</text>
<text x="643.3" y="85.18" font-size="7.3" text-anchor="start" fill="#222" font-weight="normal" class="tk">20</text>
<text x="643.3" y="54.199999999999996" font-size="7.3" text-anchor="start" fill="#222" font-weight="normal" class="tk">25</text>
<text x="388.4" y="218.7" font-size="7.3" text-anchor="middle" fill="#222" font-weight="normal" class="tk">0</text>
<text x="454.2" y="218.7" font-size="7.3" text-anchor="middle" fill="#222" font-weight="normal" class="tk">10</text>
<text x="520.0" y="218.7" font-size="7.3" text-anchor="middle" fill="#222" font-weight="normal" class="tk">20</text>
<text x="585.8" y="218.7" font-size="7.3" text-anchor="middle" fill="#222" font-weight="normal" class="tk">30</text>
<text x="536.5" y="220.0" font-size="9.4" text-anchor="start" fill="#222" font-weight="normal">time (h)</text>
<text x="521.0" y="53.5" font-size="9.5" text-anchor="start" fill="#222" font-weight="normal">CDW fit</text>
<text x="521.0" y="63.8" font-size="9.5" text-anchor="start" fill="#222" font-weight="normal">Surfactin fit</text>
<text x="504.6" y="110.0" font-size="9.5" text-anchor="start" fill="#222" font-weight="normal">Feed start</text>
<text transform="translate(364.2,133.3) rotate(-90)" font-size="9.35" fill="#222">CDW (g L<tspan font-size="5.4" dy="-4.2">-1</tspan><tspan dy="4.2">)</tspan></text>
<text transform="translate(668.6,138.0) rotate(-90)" font-size="9.35" fill="#222">Surfactin (g L<tspan font-size="5.4" dy="-4.2">-1</tspan><tspan dy="4.2">)</tspan></text>
<text transform="translate(682.4,137.1) rotate(-90)" font-size="9.35" fill="#222">Glucose (g L<tspan font-size="5.4" dy="-4.2">-1</tspan><tspan dy="4.2">)</tspan></text>
<text x="382.7" y="229.1" font-size="7.3" text-anchor="end" fill="#222" font-weight="normal" class="tk">0,8</text>
<text x="659.7" y="229.1" font-size="7.3" text-anchor="end" fill="#222" font-weight="normal" class="tk">0,08</text>
<text x="382.7" y="242.1" font-size="7.3" text-anchor="end" fill="#222" font-weight="normal" class="tk">0,6</text>
<text x="659.7" y="242.1" font-size="7.3" text-anchor="end" fill="#222" font-weight="normal" class="tk">0,06</text>
<text x="382.7" y="254.1" font-size="7.3" text-anchor="end" fill="#222" font-weight="normal" class="tk">0,4</text>
<text x="659.7" y="254.1" font-size="7.3" text-anchor="end" fill="#222" font-weight="normal" class="tk">0,04</text>
<text x="382.7" y="266.1" font-size="7.3" text-anchor="end" fill="#222" font-weight="normal" class="tk">0,2</text>
<text x="659.7" y="266.1" font-size="7.3" text-anchor="end" fill="#222" font-weight="normal" class="tk">0,02</text>
<text x="382.7" y="278.1" font-size="7.3" text-anchor="end" fill="#222" font-weight="normal" class="tk">0,0</text>
<text x="659.7" y="278.1" font-size="7.3" text-anchor="end" fill="#222" font-weight="normal" class="tk">0,00</text>
<text x="382.7" y="289.1" font-size="7.3" text-anchor="end" fill="#222" font-weight="normal" class="tk">-0,2</text>
<text x="659.7" y="289.1" font-size="7.3" text-anchor="end" fill="#222" font-weight="normal" class="tk">-0,02</text>
<text x="504.6" y="242.0" font-size="9.5" text-anchor="start" fill="#222" font-weight="normal">Feed start</text>
<text transform="translate(346.8,256.5) rotate(-90)" font-size="9.35" fill="#222"><tspan font-size="8" fill="#444" stroke-width="0">μ</tspan><tspan> (h</tspan><tspan font-size="5.4" dy="-4.2">-1</tspan><tspan dy="4.2">)</tspan></text>
<text transform="translate(670.0,267.5) rotate(-90)" font-size="9.35" fill="#222">qP/X (g g<tspan font-size="5.4" dy="-4.2">-1</tspan><tspan dy="4.2"> h<tspan font-size="5.4" dy="-4.2">-1</tspan><tspan dy="4.2">)</tspan></tspan></text>
</g>
</svg></div></body></html>
